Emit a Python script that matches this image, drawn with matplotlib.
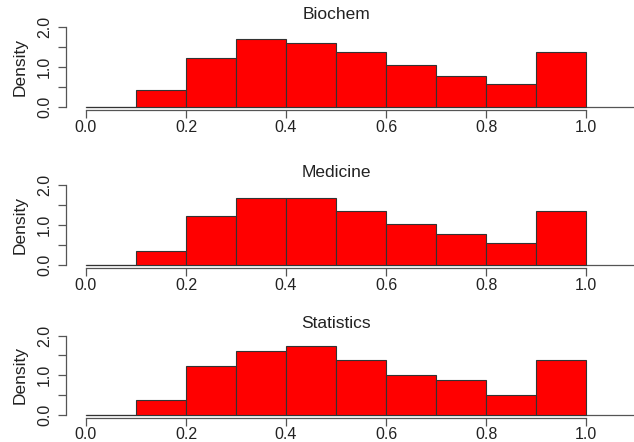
import numpy as np
import matplotlib.pyplot as plt
from matplotlib.ticker import FixedLocator

# histogram bins (left edges) and densities
bin_edges = [0.0, 0.1, 0.2, 0.3, 0.4, 0.5, 0.6, 0.7, 0.8, 0.9, 1.0]
titles = ["Biochem", "Medicine", "Statistics"]
biochem = [0.0, 0.42, 1.21, 1.68, 1.60, 1.38, 1.04, 0.77, 0.57, 1.38]
medicine = [0.0, 0.34, 1.23, 1.68, 1.68, 1.34, 1.01, 0.77, 0.55, 1.34]
statistics = [0.0, 0.37, 1.24, 1.62, 1.73, 1.37, 1.00, 0.87, 0.50, 1.37]
x_ticks = [0.0, 0.2, 0.4, 0.6, 0.8, 1.0]
y_ticks = [0.0, 1.0, 2.0]
y_minor = [0.5, 1.5]

plt.rcParams["font.family"] = ["Liberation Sans", "DejaVu Sans"]
axis_col = "#555555"
text_col = "#222222"

fig = plt.figure(figsize=(6.34, 4.42), dpi=100)

boxes = [
    (0.104, 0.751, 0.852, 0.196),
    (0.104, 0.394, 0.852, 0.195),
    (0.104, 0.055, 0.852, 0.193),
]

edges = np.array(bin_edges)
for box, title, dens in zip(boxes, titles, [biochem, medicine, statistics]):
    ax = fig.add_axes(box)
    ax.bar(edges[:-1], dens, width=np.diff(edges), align="edge",
           color="#ff0000", edgecolor="#333333", linewidth=0.8, zorder=3)
    # baseline running past the last bin
    ax.plot([0.0, 1.1], [0, 0], color=axis_col, lw=0.9, clip_on=False, zorder=2)

    ax.set_xlim(-0.04, 1.04)
    ax.set_ylim(-0.08, 2.08)
    for s in ["top", "right"]:
        ax.spines[s].set_visible(False)
    for s in ["left", "bottom"]:
        ax.spines[s].set_color(axis_col)
        ax.spines[s].set_linewidth(0.9)
    ax.spines["bottom"].set_bounds(0, 1)
    ax.spines["left"].set_bounds(0, 2)

    ax.set_xticks(x_ticks)
    ax.set_xticklabels([f"{v:.1f}" for v in x_ticks])
    ax.set_yticks(y_ticks)
    ax.set_yticklabels([f"{v:.1f}" for v in y_ticks], rotation=90,
                       va="center", ha="right")
    ax.yaxis.set_minor_locator(FixedLocator(y_minor))
    ax.tick_params(axis="both", which="both", length=5.5, width=0.9,
                   color=axis_col, labelcolor=text_col, labelsize=11.5)
    ax.tick_params(axis="x", pad=1.5)
    ax.tick_params(axis="y", pad=4.5)

    ax.set_ylabel("Density", fontsize=12.5, color=text_col, labelpad=7)
    ax.set_title(title, fontsize=12.5, color=text_col, pad=3)

fig.savefig("out.png", dpi=100)
